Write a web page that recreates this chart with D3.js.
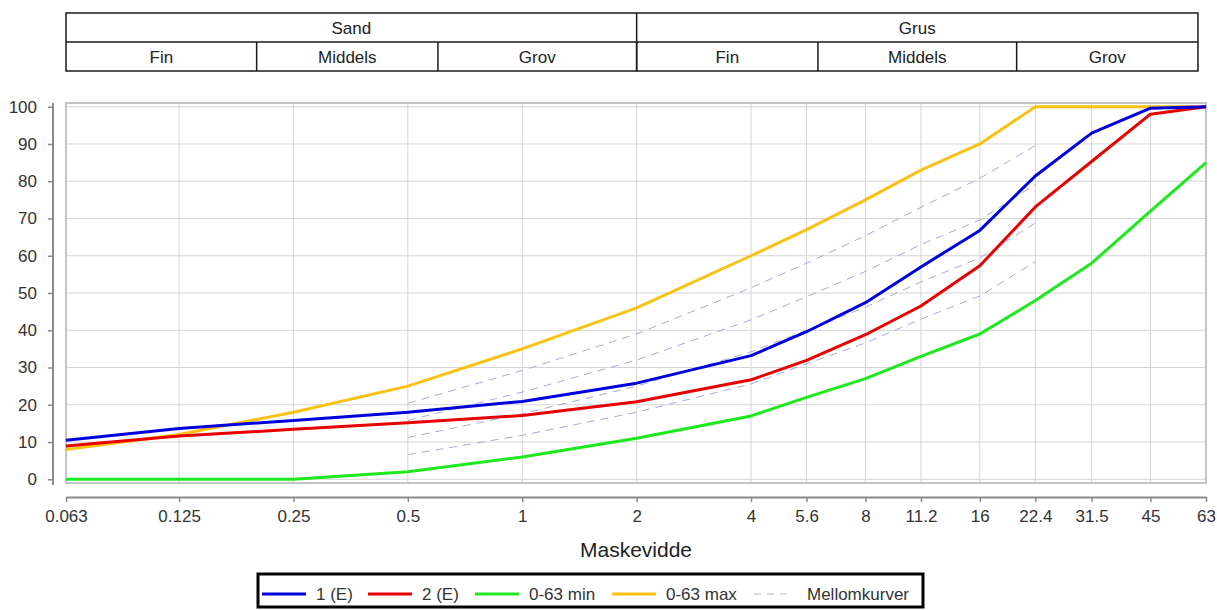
<!DOCTYPE html>
<html>
<head>
<meta charset="utf-8">
<script src="https://cdn.jsdelivr.net/npm/d3@7"></script>
<style>
  html, body { margin: 0; padding: 0; background: #fff; }
  svg { display: block; font-family: "Liberation Sans", Arial, sans-serif; }
</style>
</head>
<body>
<svg id="chart" width="1217" height="610"></svg>
<script>
// ---- Data ----
const sieveSizes = [0.063, 0.125, 0.25, 0.5, 1, 2, 4, 5.6, 8, 11.2, 16, 22.4, 31.5, 45, 63];
const tickLabels = ["0.063", "0.125", "0.25", "0.5", "1", "2", "4", "5.6", "8", "11.2", "16", "22.4", "31.5", "45", "63"];
const yTicks = [0, 10, 20, 30, 40, 50, 60, 70, 80, 90, 100];

const sample1 = [10.5, 13.6, 15.8, 18.0, 20.9, 25.8, 33.2, 39.6, 47.4, 57.0, 66.8, 81.4, 92.9, 99.6, 100];
const sample2 = [8.9, 11.6, 13.4, 15.2, 17.1, 20.8, 26.7, 31.9, 38.8, 46.5, 57.3, 73.1, 85.3, 98.0, 100];
const envMin  = [0, 0, 0, 2, 6, 11, 17, 22, 27, 33, 39, 48, 58, 72, 85];
const envMax  = [8, 12, 18, 25, 35, 46, 60, 67, 75, 83, 90, 100, 100, 100, 100];

const midSizes = [0.5, 1, 2, 4, 5.6, 8, 11.2, 16, 22.4];
const mid1 = [6.6, 11.8, 18.0, 25.6, 31.0, 36.6, 43.0, 49.2, 58.4];
const mid2 = [11.2, 17.6, 25.0, 34.2, 40.0, 46.2, 53.0, 59.4, 68.8];
const mid3 = [15.8, 23.4, 32.0, 42.8, 49.0, 55.8, 63.0, 69.6, 79.2];
const mid4 = [20.4, 29.2, 39.0, 51.4, 58.0, 65.4, 73.0, 80.8, 89.6];

const mainClasses = ["Sand", "Grus"];
const mainBounds = [[0.063, 2], [2, 60]];
const subClasses = ["Fin", "Middels", "Grov", "Fin", "Middels", "Grov"];
const subBounds = [0.063, 0.2, 0.6, 2, 6, 20, 60];

const seriesNames = ["1 (E)", "2 (E)", "0-63 min", "0-63 max"];
const seriesColors = ["#0000dc", "#e60000", "#1ee81e", "#f7c213"];
const midName = "Mellomkurver";
const xTitle = "Maskevidde";

// ---- Setup ----
const svg = d3.select("#chart");
const plotL = 66, plotR = 1206, plotT = 103, plotB = 483;
const x = d3.scaleLog().domain([0.063, 63]).range([plotL, plotR]);
const y = d3.scaleLinear().domain([-1, 101]).range([plotB, plotT]);

// ---- Classification table ----
const tT = 13, tM = 42, tB = 71;
const tbl = svg.append("g");
tbl.append("rect").attr("x", x(subBounds[0])).attr("y", tT)
  .attr("width", x(subBounds[subBounds.length - 1]) - x(subBounds[0])).attr("height", tB - tT)
  .attr("fill", "none").attr("stroke", "#1a1a1a").attr("stroke-width", 1.5);
tbl.append("line").attr("x1", x(subBounds[0])).attr("x2", x(subBounds[subBounds.length - 1]))
  .attr("y1", tM).attr("y2", tM).attr("stroke", "#1a1a1a").attr("stroke-width", 1.5);
mainBounds.forEach((b, i) => {
  if (i > 0) tbl.append("line").attr("x1", x(b[0])).attr("x2", x(b[0])).attr("y1", tT).attr("y2", tB)
    .attr("stroke", "#1a1a1a").attr("stroke-width", 1.5);
  tbl.append("text").attr("x", (x(b[0]) + x(b[1])) / 2).attr("y", 34)
    .attr("text-anchor", "middle").attr("font-size", 17).attr("fill", "#222").text(mainClasses[i]);
});
subClasses.forEach((c, i) => {
  const a = subBounds[i], b = subBounds[i + 1];
  if (i > 0) tbl.append("line").attr("x1", x(a)).attr("x2", x(a)).attr("y1", tM).attr("y2", tB)
    .attr("stroke", "#1a1a1a").attr("stroke-width", 1.5);
  tbl.append("text").attr("x", (x(a) + x(b)) / 2).attr("y", 63)
    .attr("text-anchor", "middle").attr("font-size", 17).attr("fill", "#222").text(c);
});

// ---- Grid ----
const grid = svg.append("g");
grid.selectAll("line.h").data(yTicks).join("line")
  .attr("x1", plotL).attr("x2", plotR).attr("y1", d => y(d)).attr("y2", d => y(d))
  .attr("stroke", "#d4d4d4").attr("stroke-width", 1);
grid.selectAll("line.v").data(sieveSizes).join("line")
  .attr("x1", d => x(d)).attr("x2", d => x(d)).attr("y1", plotT).attr("y2", plotB)
  .attr("stroke", "#d4d4d4").attr("stroke-width", 1);
grid.append("rect").attr("x", plotL).attr("y", plotT).attr("width", plotR - plotL).attr("height", plotB - plotT)
  .attr("fill", "none").attr("stroke", "#c4c4c4").attr("stroke-width", 2);

// ---- Axes ----
const yAxis = d3.axisLeft(y).tickValues(yTicks).tickSize(5).tickSizeOuter(0).tickPadding(11);
const gy = svg.append("g").attr("transform", "translate(53,0)").call(yAxis);
gy.select(".domain").attr("d", `M0,${plotT}V${plotB + 2}`).attr("stroke", "#8a8a8a").attr("stroke-width", 2);
gy.selectAll(".tick line").attr("stroke", "#8a8a8a").attr("stroke-width", 1.5);
gy.selectAll(".tick text").attr("font-size", 17).attr("fill", "#333").attr("font-family", "Liberation Sans, Arial, sans-serif");

const xAxis = d3.axisBottom(x).tickValues(sieveSizes).tickFormat((d, i) => tickLabels[i])
  .tickSize(5).tickSizeOuter(0).tickPadding(8);
const gx = svg.append("g").attr("transform", "translate(0,497)").call(xAxis);
gx.select(".domain").attr("stroke", "#8a8a8a").attr("stroke-width", 2);
gx.selectAll(".tick line").attr("stroke", "#8a8a8a").attr("stroke-width", 1.5);
gx.selectAll(".tick text").attr("font-size", 17).attr("fill", "#333").attr("font-family", "Liberation Sans, Arial, sans-serif");

svg.append("text").attr("x", (plotL + plotR) / 2).attr("y", 557).attr("text-anchor", "middle")
  .attr("font-size", 21).attr("fill", "#222").text(xTitle);

// ---- Lines ----
const line = d3.line().x(d => x(d[0])).y(d => y(d[1]));
[mid1, mid2, mid3, mid4].forEach(vals => {
  svg.append("path").datum(midSizes.map((s, i) => [s, vals[i]]))
    .attr("d", line).attr("fill", "none").attr("stroke", "#a8a8e0").attr("stroke-width", 1)
    .attr("stroke-dasharray", "8,6");
});
const seriesVals = [sample1, sample2, envMin, envMax];
[2, 3, 1, 0].forEach(k => {
  svg.append("path").datum(sieveSizes.map((s, i) => [s, seriesVals[k][i]]))
    .attr("d", line).attr("fill", "none").attr("stroke", seriesColors[k]).attr("stroke-width", 3)
    .attr("stroke-linejoin", "round");
});

// ---- Legend ----
const lg = svg.append("g");
lg.append("rect").attr("x", 258).attr("y", 574).attr("width", 665).attr("height", 33)
  .attr("fill", "#fff").attr("stroke", "#000").attr("stroke-width", 3);
const legX = [262, 368, 475, 612];
seriesNames.forEach((n, i) => {
  lg.append("line").attr("x1", legX[i]).attr("x2", legX[i] + 44).attr("y1", 594).attr("y2", 594)
    .attr("stroke", seriesColors[i]).attr("stroke-width", 3);
  lg.append("text").attr("x", legX[i] + 54).attr("y", 600).attr("font-size", 17).attr("fill", "#333").text(n);
});
lg.append("line").attr("x1", 754).attr("x2", 790).attr("y1", 594).attr("y2", 594)
  .attr("stroke", "#b8b8c8").attr("stroke-width", 1).attr("stroke-dasharray", "7,6");
lg.append("text").attr("x", 807).attr("y", 600).attr("font-size", 17).attr("fill", "#333").text(midName);
</script>
</body>
</html>
